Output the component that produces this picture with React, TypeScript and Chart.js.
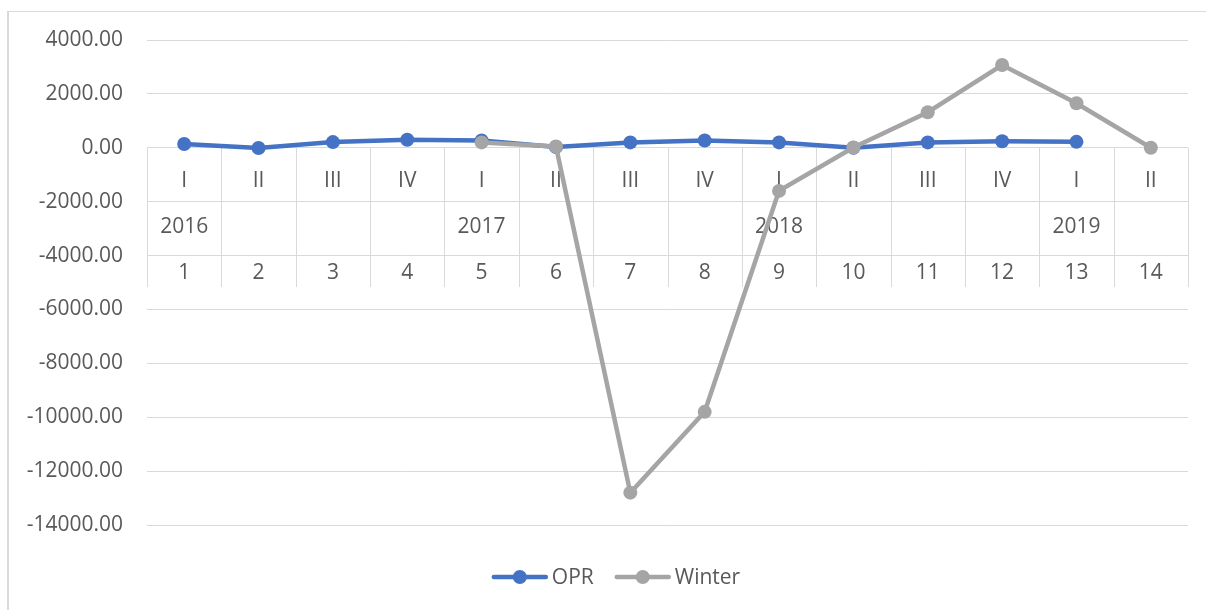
import React, { useEffect, useRef } from "react";
import { Chart, registerables } from "chart.js";

Chart.register(...registerables);

// ---- data ----
const indexLabels = ["1", "2", "3", "4", "5", "6", "7", "8", "9", "10", "11", "12", "13", "14"];
const quarterLabels = ["I", "II", "III", "IV", "I", "II", "III", "IV", "I", "II", "III", "IV", "I", "II"];
const yearLabels = ["2016", "", "", "", "2017", "", "", "", "2018", "", "", "", "2019", ""];
const oprValues = [140, -10, 210, 300, 270, 30, 200, 270, 200, 0, 200, 240, 220, null];
const winterValues = [null, null, null, null, 200, 50, -12800, -9800, -1600, 10, 1320, 3070, 1650, 0];
const yMin = -14000;
const yMax = 4000;
const yStep = 2000;

const FONT = "'Open Sans', 'Noto Sans', sans-serif";
const TEXT = "#595959";
const GRID = "#d9d9d9";
const BLUE = "#4472C4";
const GRAY = "#A5A5A5";

const multiLevelAxis = {
  id: "multiLevelAxis",
  beforeDatasetsDraw(chart: any) {
    const { ctx, chartArea, scales } = chart;
    const x = scales.x;
    const y = scales.y;
    const y0 = Math.round(y.getPixelForValue(0));
    const n = chart.data.labels.length;
    const w = (chartArea.right - chartArea.left) / n;
    ctx.save();
    ctx.strokeStyle = GRID;
    ctx.lineWidth = 1;
    for (let i = 0; i <= n; i++) {
      const xx = Math.round(chartArea.left + i * w) + 0.5;
      ctx.beginPath();
      ctx.moveTo(xx, y0);
      ctx.lineTo(xx, y0 + 139);
      ctx.stroke();
    }
    ctx.fillStyle = TEXT;
    ctx.font = `21px ${FONT}`;
    ctx.textAlign = "center";
    ctx.textBaseline = "middle";
    for (let i = 0; i < n; i++) {
      const cx = x.getPixelForValue(i);
      ctx.fillText(quarterLabels[i], cx, y0 + 33);
      if (yearLabels[i]) ctx.fillText(yearLabels[i], cx, y0 + 79);
      ctx.fillText(indexLabels[i], cx, y0 + 125);
    }
    ctx.restore();
  },
  afterDraw(chart: any) {
    const { ctx } = chart;
    ctx.save();
    // outer border (clipped chart frame)
    ctx.fillStyle = GRID;
    ctx.fillRect(7, 11, 2, chart.height - 11);
    ctx.fillRect(7, 11, chart.width - 7, 1);
    // legend
    ctx.font = `21px ${FONT}`;
    ctx.textBaseline = "middle";
    ctx.textAlign = "left";
    const ds = chart.data.datasets;
    const lineLen = 56;
    const gapText = 4;
    const gapItem = 21;
    let total = 0;
    const widths = ds.map((d: any) => ctx.measureText(d.label).width);
    widths.forEach((tw: number, i: number) => {
      total += lineLen + gapText + tw + (i > 0 ? gapItem : 0);
    });
    let sx = 616 - total / 2;
    const ly = 577;
    ds.forEach((d: any, i: number) => {
      ctx.strokeStyle = d.borderColor;
      ctx.lineWidth = 4.5;
      ctx.lineCap = "round";
      ctx.beginPath();
      ctx.moveTo(sx + 2, ly);
      ctx.lineTo(sx + lineLen - 2, ly);
      ctx.stroke();
      ctx.fillStyle = d.borderColor;
      ctx.beginPath();
      ctx.arc(sx + lineLen / 2, ly, 7, 0, Math.PI * 2);
      ctx.fill();
      ctx.fillStyle = TEXT;
      ctx.fillText(d.label, sx + lineLen + gapText, ly + 1);
      sx += lineLen + gapText + widths[i] + gapItem;
    });
    ctx.restore();
  },
};

export default function App() {
  const ref = useRef<HTMLCanvasElement | null>(null);
  useEffect(() => {
    if (!ref.current) return;
    const chart = new Chart(ref.current, {
      type: "line",
      data: {
        labels: indexLabels,
        datasets: [
          {
            label: "OPR",
            data: oprValues,
            borderColor: BLUE,
            backgroundColor: BLUE,
            borderWidth: 4.5,
            pointRadius: 7,
            pointHoverRadius: 7,
            pointBackgroundColor: BLUE,
            pointBorderWidth: 0,
            tension: 0,
            order: 1,
          },
          {
            label: "Winter",
            data: winterValues,
            borderColor: GRAY,
            backgroundColor: GRAY,
            borderWidth: 4.5,
            pointRadius: 7,
            pointHoverRadius: 7,
            pointBackgroundColor: GRAY,
            pointBorderWidth: 0,
            tension: 0,
            order: 0,
          },
        ],
      },
      options: {
        animation: false,
        responsive: true,
        maintainAspectRatio: false,
        layout: { padding: { left: 0, top: 40, right: 18, bottom: 85 } },
        plugins: {
          legend: { display: false },
          tooltip: { enabled: false },
        },
        scales: {
          x: {
            type: "category",
            display: false,
            offset: true,
          },
          y: {
            min: yMin,
            max: yMax,
            border: { display: false },
            grid: { color: GRID, lineWidth: 1, drawTicks: false },
            ticks: {
              stepSize: yStep,
              padding: 24,
              color: TEXT,
              font: { family: FONT, size: 21 },
              callback: (v: any) => Number(v).toFixed(2),
            },
            afterFit: (scale: any) => {
              scale.width = 147;
            },
          },
        },
      },
      plugins: [multiLevelAxis],
    });
    return () => chart.destroy();
  }, []);
  return (
    <div style={{ position: "absolute", left: 0, top: 0, width: 1206, height: 610, background: "#fff" }}>
      <canvas ref={ref} />
    </div>
  );
}
